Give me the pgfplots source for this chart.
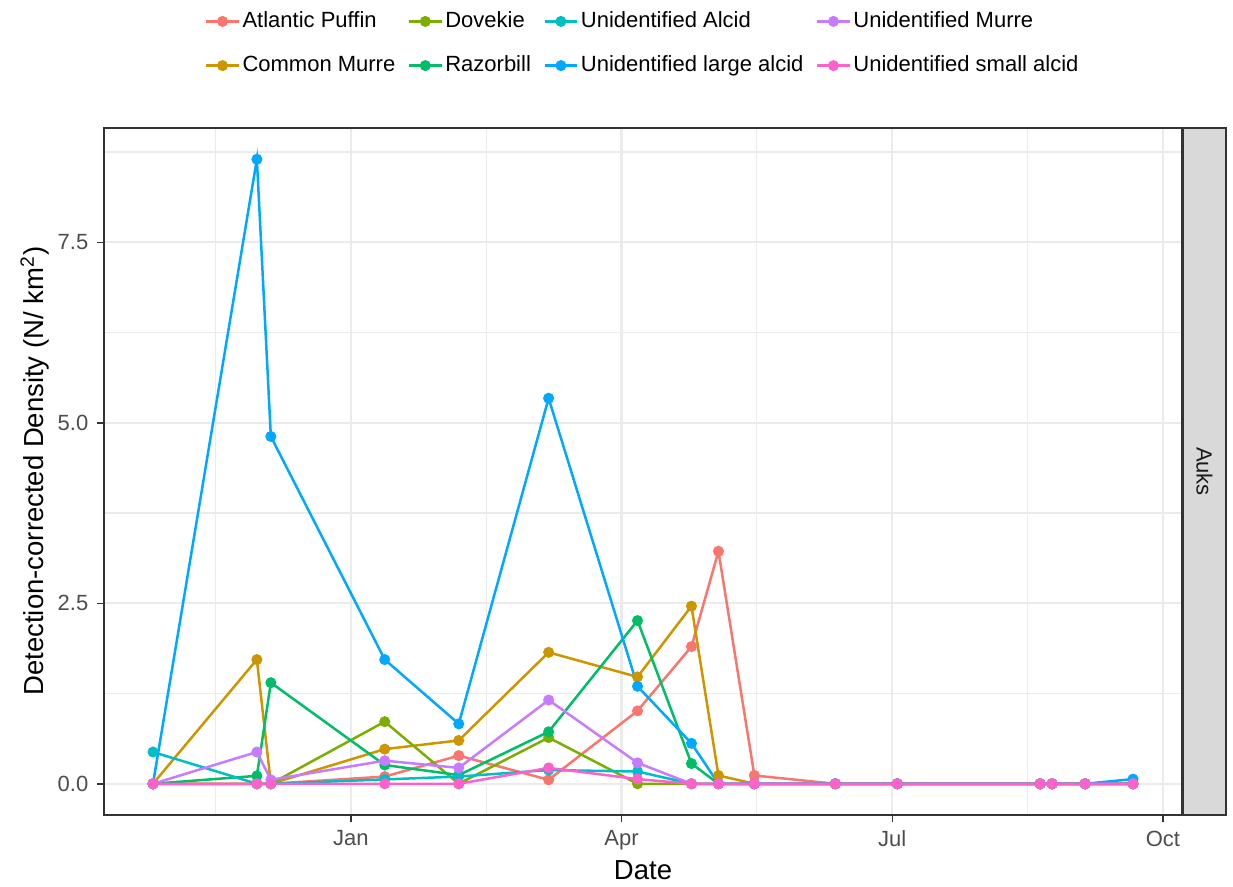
\documentclass[border=0pt]{standalone}
\usepackage{pgfplots}
\pgfplotsset{compat=1.18}
\usepackage{pgfplotstable}
\usepackage{fontspec}
\setmainfont{Liberation Sans}

\definecolor{cPuffin}{HTML}{F8766D}
\definecolor{cCMurre}{HTML}{CD9600}
\definecolor{cDovekie}{HTML}{7CAE00}
\definecolor{cRazor}{HTML}{00BE67}
\definecolor{cUAlcid}{HTML}{00BFC4}
\definecolor{cULarge}{HTML}{00A9FF}
\definecolor{cUMurre}{HTML}{C77CFF}
\definecolor{cUSmall}{HTML}{FF61CC}
\definecolor{gridgray}{HTML}{EBEBEB}
\definecolor{gray20}{HTML}{333333}
\definecolor{gray30}{HTML}{4D4D4D}
\definecolor{gray10}{HTML}{1A1A1A}
\definecolor{stripgray}{HTML}{D9D9D9}

% x: months after 1 Jan (Jan=0, Apr=3, Jul=6, Oct=9)
\pgfplotstableread{
x      puffin cmurre dovekie razor ualcid ularge umurre usmall
-2.192 0      0      0       0     0.44   0      0      0
-1.041 0      1.72   0       0.11  0      8.65   0.44   0
-0.886 0      0      0       1.40  0      4.81   0.055  0
0.376  0.10   0.48   0.86    0.26  0.06   1.72   0.32   0
1.196  0.39   0.60   0       0.12  0.10   0.83   0.22   0
2.192  0.055  1.82   0.64    0.72  0.19   5.34   1.16   0.22
3.177  1.01   1.48   0       2.26  0.17   1.35   0.29   0.065
3.775  1.90   2.46   0       0.28  0      0.56   0      0
4.074  3.22   0.115  0       0     0      0      0      0
4.472  0.115  0      0       0     0      0      0      0
5.369  0      0      0       0     0      0      0      0
6.056  0      0      0       0     0      0      0      0
7.639  0      0      0       0     0      0      0      0
7.772  0      0      0       0     0      0      0      0
8.137  0      0      0       0     0      0      0      0
8.668  0      0      0       0     0      0.065  0      0
}\auks

\pgfplotsset{
  ser/.style={color=#1, mark=*, line width=1pt, mark size=2pt, mark options={solid, line width=0.4pt}},
}

\begin{document}
\begin{tikzpicture}
\path[use as bounding box] (0,0) rectangle (493.2pt,354.4pt);
\begin{axis}[
  at={(41.6pt,28.4pt)}, anchor=south west,
  scale only axis, width=431.2pt, height=274.8pt,
  xmin=-2.735, xmax=9.211, ymin=-0.4325, ymax=9.0825,
  xtick={0,3,6,9}, xticklabels={Jan,Apr,Jul,Oct},
  ytick={0,2.5,5,7.5}, yticklabels={0.0,2.5,5.0,7.5},
  minor xtick={-1.5,1.5,4.5,7.5},
  minor ytick={1.25,3.75,6.25,8.75},
  minor tick length=0pt,
  major tick length=2.75pt,
  tick align=outside, tick pos=left,
  grid=both,
  major grid style={color=gridgray, line width=0.9pt},
  minor grid style={color=gridgray, line width=0.45pt},
  axis line style={gray20, line width=0.6pt},
  tick style={gray20, line width=0.6pt},
  tick label style={color=gray30, font=\fontsize{8.8}{10}\selectfont},
  /pgf/number format/assume math mode=true,
  legend columns=4,
  legend cell align=left,
  legend image code/.code={\draw[mark repeat=2,mark phase=2,#1] plot coordinates {(0pt,0pt) (6.5pt,0pt) (13pt,0pt)};},
  legend style={draw=none, fill=none, at={(0.5,1.123)}, anchor=center,
    font=\fontsize{8.8}{10}\selectfont, row sep=7.8pt,
    nodes={inner sep=1pt},
    /tikz/every odd column/.append style={column sep=0pt},
    /tikz/every even column/.append style={column sep=4pt}},
]
\addplot[ser=cPuffin, forget plot] table[x=x, y=puffin] {\auks};
\addplot[ser=cCMurre, forget plot] table[x=x, y=cmurre] {\auks};
\addplot[ser=cDovekie, forget plot] table[x=x, y=dovekie] {\auks};
\addplot[ser=cRazor, forget plot] table[x=x, y=razor] {\auks};
\addplot[ser=cUAlcid, forget plot] table[x=x, y=ualcid] {\auks};
\addplot[ser=cULarge, forget plot] table[x=x, y=ularge] {\auks};
\addplot[ser=cUMurre, forget plot] table[x=x, y=umurre] {\auks};
\addplot[ser=cUSmall, forget plot] table[x=x, y=usmall] {\auks};

\addlegendimage{ser=cPuffin}\addlegendentry{Atlantic Puffin}
\addlegendimage{ser=cDovekie}\addlegendentry{Dovekie}
\addlegendimage{ser=cUAlcid}\addlegendentry{Unidentified Alcid}
\addlegendimage{ser=cUMurre}\addlegendentry{Unidentified Murre}
\addlegendimage{ser=cCMurre}\addlegendentry{Common Murre}
\addlegendimage{ser=cRazor}\addlegendentry{Razorbill}
\addlegendimage{ser=cULarge}\addlegendentry{Unidentified large alcid}
\addlegendimage{ser=cUSmall}\addlegendentry{Unidentified small alcid}
\end{axis}

\draw[gray20, line width=0.6pt] (41.6pt,28.4pt) rectangle (473.2pt,303.2pt);
\draw[gray20, line width=0.6pt, fill=stripgray] (473.2pt,28.4pt) rectangle (490.4pt,303.2pt);
\node[rotate=-90, color=gray10, font=\fontsize{8.8}{10}\selectfont] at (481.8pt,165.8pt) {Auks};

\node[rotate=90, font=\fontsize{11}{13}\selectfont] at (14pt,166pt) {Detection-corrected Density (N/ km\textsuperscript{2})};
\node[font=\fontsize{11}{13}\selectfont] at (257.2pt,6.4pt) {Date};
\end{tikzpicture}
\end{document}
